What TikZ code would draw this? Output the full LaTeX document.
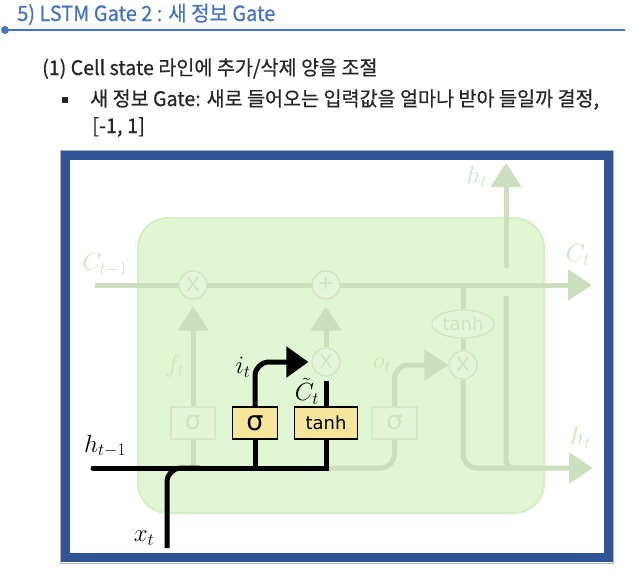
\documentclass[tikz,border=0pt]{standalone}
\usepackage{fontspec}
\setmainfont{Noto Sans CJK KR}
\newfontfamily\kr{Noto Sans CJK KR}[FakeBold=0.5]
\newfontfamily\djv{DejaVu Sans}
\newfontfamily\lbs{Liberation Sans}
\usetikzlibrary{arrows.meta,shapes.geometric,calc}
\pgfdeclarelayer{bgl}
\pgfdeclarelayer{lines}
\pgfsetlayers{bgl,lines,main}
\definecolor{titleblue}{RGB}{68,114,196}
\definecolor{bodytext}{RGB}{38,38,38}
\definecolor{frameblue}{RGB}{46,84,150}
\definecolor{cellfill}{RGB}{225,246,210}
\definecolor{celledge}{RGB}{214,238,196}
\definecolor{paleline}{RGB}{204,222,190}
\definecolor{paletext}{RGB}{206,228,190}
\definecolor{circfill}{RGB}{230,245,218}
\definecolor{circline}{RGB}{210,228,196}
\definecolor{pboxfill}{RGB}{230,245,216}
\definecolor{pboxline}{RGB}{214,232,200}
\definecolor{yellowf}{RGB}{245,230,155}
\begin{document}
\begin{tikzpicture}[x=1pt,y=-1pt,
  pale/.style={line width=5pt, draw=paleline},
  blk/.style={line width=5pt, draw=black},
  ptip/.style={-{Triangle[length=24pt,width=30pt]}},
  btip/.style={-{Triangle[length=22pt,width=30pt]}},
  gcirc/.style={circle, minimum size=28pt, inner sep=0pt, fill=circfill, draw=circline, line width=1.2pt, text=paletext, font=\lbs\fontsize{20}{20}\selectfont},
  pbox/.style={rectangle, minimum width=45pt, minimum height=32pt, inner sep=0pt, fill=pboxfill, draw=pboxline, line width=1.2pt, text=paletext, font=\djv\fontsize{26}{26}\selectfont},
  ybox/.style={rectangle, minimum height=32pt, inner sep=0pt, fill=yellowf, draw=black, line width=1.5pt},
  pell/.style={ellipse, minimum width=62pt, minimum height=28pt, inner sep=0pt, fill=circfill, draw=circline, line width=1.2pt, text=paletext, font=\djv\fontsize{18}{18}\selectfont},
  mlab/.style={font=\fontsize{24}{28}\selectfont, inner sep=0pt},
  plab/.style={mlab, text=paletext},
  ttl/.style={font=\kr\fontsize{21}{25}\selectfont, text=titleblue, inner sep=0pt, anchor=base west},
  body/.style={font=\kr\fontsize{20}{24}\selectfont, text=bodytext, inner sep=0pt, anchor=base west},
]
\useasboundingbox (0,0) rectangle (636,587);

% header
\node[ttl] (title) at (17,21) {\scalebox{0.95}[1]{5) LSTM Gate 2 : 새 정보 Gate}};
\node[circle, fill=titleblue, minimum size=8pt, inner sep=0pt] (dot) at (5,30) {};
\coordinate (lineEnd) at (625,30);
\draw[titleblue, line width=1.5pt] (dot) -- (lineEnd);
\node[body] (l1) at (42,75) {\scalebox{0.98}[1]{(1) Cell state 라인에 추가/삭제 양을 조절}};
\node[rectangle, fill=bodytext, minimum size=6pt, inner sep=0pt] (bul) at (65,100) {};
\node[body] (l2) at (90,106) {\scalebox{0.98}[1]{새 정보 Gate: 새로 들어오는 입력값을 얼마나 받아 들일까 결정,}};
\node[body] (l3) at (92,133) {[-1, 1]};

% frame and cell
\begin{pgfonlayer}{bgl}
\fill[white] (0,0) rectangle (636,587);
\draw[gray!60, line width=1pt] (60.5,150) rectangle (613,563);
\draw[frameblue, line width=9pt] (65.5,155) rectangle (608,557.5);
\draw[celledge, fill=cellfill, line width=2pt, rounded corners=30pt] (138,218) rectangle (544,513);
\end{pgfonlayer}

% gates
\node[gcirc] (mulF) at (193,285) {X};
\node[gcirc, font=\lbs\fontsize{24}{24}\selectfont] (plus) at (326,285) {+};
\node[gcirc] (mulI) at (326,362) {X};
\node[gcirc] (mulO) at (463,365) {X};
\node[pell] (tanhE) at (463,324) {tanh};
\node[pbox, minimum width=44pt] (sigF) at (193,423) {σ};
\node[ybox, minimum width=45pt, font=\djv\fontsize{27}{27}\selectfont] (sigI) at (255,423) {σ};
\node[ybox, minimum width=63pt, font=\djv\fontsize{18}{18}\selectfont] (tanhB) at (326,423) {tanh};
\node[pbox] (sigO) at (394.5,423) {σ};

% labels
\node[plab] (lCt1) at (105,265) {$C_{t-1}$};
\node[plab] (lft) at (175,366) {$f_t$};
\node[mlab] (lit) at (243,367) {$i_t$};
\node[mlab] (lCtt) at (307,391) {$\tilde{C}_t$};
\node[plab] (lot) at (382,365) {$o_t$};
\node[mlab] (lht1) at (105,446) {$h_{t-1}$};
\node[mlab] (lxt) at (144,538) {$x_t$};
\node[plab] (lhtT) at (477,177) {$h_t$};
\node[plab] (lCt) at (578,255) {$C_t$};
\node[plab] (lhtR) at (581,438) {$h_t$};

% connectors
\coordinate (cin) at (95,285);
\coordinate (cout) at (592,285);
\coordinate (hL) at (93,468);
\coordinate (hR) at (593,468);
\coordinate (xB) at (167,548);
\coordinate (xJ) at (200,468);
\coordinate (hUpTop) at (506,163);
\coordinate (hUpBot) at (506,266);
\coordinate (hDown) at (506,298);
\coordinate (hJ) at (540,468);
\begin{pgfonlayer}{lines}
\draw[pale, ptip] (cin) -- (cout);
\draw[pale, ptip, shorten >=7pt] (sigF.north) -- (mulF.south);
\draw[pale] (sigF.south) -- (sigF.south |- hL);
\draw[pale, ptip, shorten >=7pt] (mulI.north) -- (plus.south);
\draw[pale, rounded corners=14pt] (hL -| tanhB) -| (sigO.south);
\draw[pale, ptip, rounded corners=14pt] (sigO.north) |- (mulO.west);
\draw[pale] (cin -| tanhE) -- (tanhE.north);
\draw[pale] (tanhE.south) -- (mulO.north);
\draw[pale, ptip, rounded corners=14pt] (mulO.south) |- (hR);
\draw[pale, ptip, line cap=round] (hUpBot) -- (hUpTop);
\draw[pale, line cap=round, rounded corners=8pt] (hDown) |- (hJ);
% black paths
\draw[blk, line cap=round] (hL) -- (hL -| tanhB) -- (tanhB.south);
\draw[blk] (sigI.south) -- (sigI.south |- hL);
\draw[blk, btip, rounded corners=14pt, shorten >=3pt] (sigI.north) |- (mulI.west);
\draw[blk, shorten >=4pt] (tanhB.north) -- (mulI.south);
\draw[blk, rounded corners=14pt] (xB) |- (xJ);
\end{pgfonlayer}
\end{tikzpicture}
\end{document}
